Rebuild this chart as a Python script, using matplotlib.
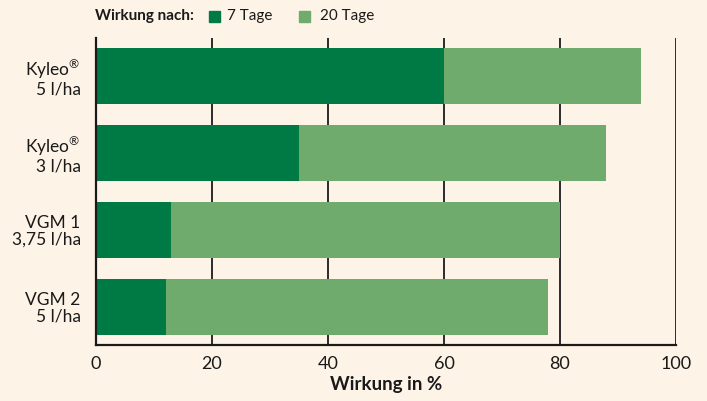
import matplotlib
matplotlib.use("Agg")
import matplotlib.pyplot as plt
import numpy as np

plt.rcParams['font.family'] = ['Lato', 'DejaVu Sans']
plt.rcParams['mathtext.fontset'] = 'custom'
plt.rcParams['mathtext.rm'] = 'Lato'
plt.rcParams['mathtext.it'] = 'Lato'
plt.rcParams['mathtext.bf'] = 'Lato:bold'

categories = ["Kyleo$^{®}$\n5 l/ha", "Kyleo$^{®}$\n3 l/ha", "VGM 1\n3,75 l/ha", "VGM 2\n5 l/ha"]
tage7 = [60, 35, 13, 12]
tage20 = [94, 88, 80, 78]
xticks = [0, 20, 40, 60, 80, 100]

bg = '#fdf4e7'
dark = '#007a45'
light = '#6fab6c'
txt = '#1a1a1a'

fig = plt.figure(figsize=(7.07, 4.01), dpi=100, facecolor=bg)
ax = fig.add_axes([96/707, 56/401, 580/707, 307/401], facecolor=bg)

y = np.arange(len(categories))
ax.barh(y, tage20, height=0.73, color=light, zorder=2)
ax.barh(y, tage7, height=0.73, color=dark, zorder=3)

ax.set_xlim(0, 100)
ax.set_ylim(len(categories) - 0.5, -0.5)
ax.set_yticks(y)
ax.set_yticklabels(categories, fontsize=12.5, color=txt, linespacing=1.0)
ax.set_xticks(xticks)
ax.set_xticklabels([str(v) for v in xticks], fontsize=13, color=txt)
ax.tick_params(axis='y', length=0, pad=11)
ax.tick_params(axis='x', length=0, pad=8)
for lbl in ax.get_yticklabels():
    lbl.set_horizontalalignment('right')

for v in xticks[1:]:
    ax.axvline(v, color='#2b2b2b', lw=1.4, zorder=1)

for s in ['top', 'right']:
    ax.spines[s].set_visible(False)
ax.spines['left'].set_color('#1a1a1a')
ax.spines['left'].set_linewidth(1.6)
ax.spines['bottom'].set_color('#1a1a1a')
ax.spines['bottom'].set_linewidth(1.6)
ax.spines['left'].set_zorder(4)

ax.set_xlabel("Wirkung in %", fontsize=13.5, fontweight='bold', color=txt, labelpad=3)

# legend row
fig.text(95/707, 1 - 16/401, "Wirkung nach:", fontsize=11, fontweight='bold', color=txt, va='center', ha='left')
fig.patches.append(plt.Rectangle((209/707, 1 - 22/401), 11/707, 11/401, transform=fig.transFigure, color=dark, figure=fig))
fig.text(227/707, 1 - 16/401, "7 Tage", fontsize=11, color=txt, va='center', ha='left')
fig.patches.append(plt.Rectangle((299/707, 1 - 22/401), 11/707, 11/401, transform=fig.transFigure, color=light, figure=fig))
fig.text(320/707, 1 - 16/401, "20 Tage", fontsize=11, color=txt, va='center', ha='left')

fig.savefig("out.png", dpi=100, facecolor=bg)
